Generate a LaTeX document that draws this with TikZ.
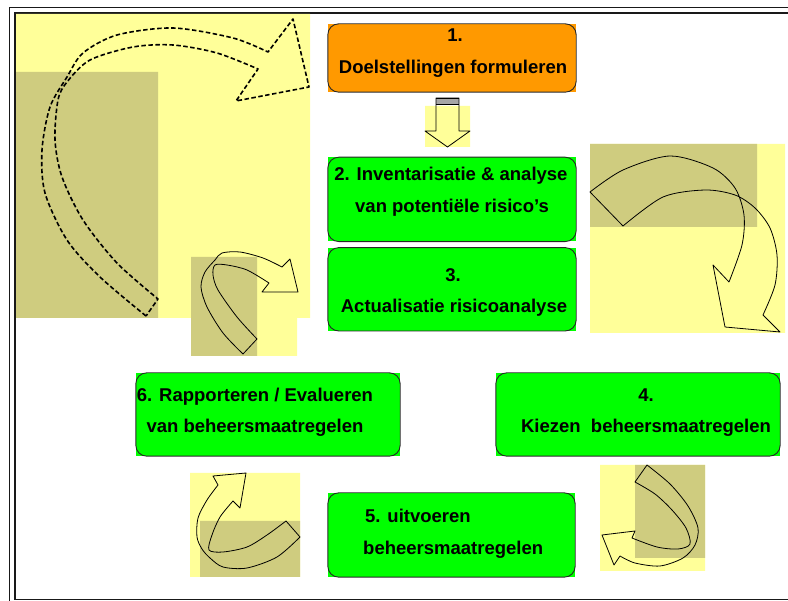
\documentclass[tikz,border=0pt]{standalone}
\usepackage{fontspec}
\setmainfont{Liberation Sans}
\usepackage{tikz}
\usetikzlibrary{positioning}
\definecolor{StepGreen}{HTML}{00FF00}
\definecolor{StepOrange}{HTML}{FF9900}
\definecolor{PadYellow}{HTML}{FFFF99}
\definecolor{PadKhaki}{HTML}{CFCC7F}

\begin{document}
\begin{tikzpicture}[x=1pt, y=-1pt, every node/.style={font=\fontsize{18.5}{22}\selectfont\bfseries}, stepbox/.style={rectangle, fill=StepGreen, minimum width=248pt, minimum height=84pt, inner sep=0pt}, rim/.style={draw=black!85, line width=0.9pt, rounded corners=11pt}, txt/.style={anchor=base, inner sep=0pt}, pad/.style={fill=PadYellow}, padk/.style={fill=PadKhaki}, swoop/.style={draw=black, line width=0.8pt, line join=round}, dashswoop/.style={swoop, line width=1.6pt, dash pattern=on 4.5pt off 2.5pt}]
\clip (0,0) rectangle (788,601);
\draw[line width=1.8pt, black!90] (9.5,7.5) rectangle (805,615);
\draw[line width=1.8pt, black!90] (15,13) rectangle (800,599.5);
\path[pad] (16,14) rectangle (310,318) (191,257) rectangle (297,356) (590,144) rectangle (785,333) (600,465) rectangle (705,571) (190,473) rectangle (300,577) (425,106) rectangle (470,147);
\path[padk] (16,72) rectangle (158,318) (191,257) rectangle (257,356) (590,144) rectangle (757,227) (635,465) rectangle (705,558) (200,521) rectangle (300,577);
\draw[dashswoop] plot[smooth] coordinates {(146,316) (100,277) (67,240) (45,193) (42,150) (50,107) (67,77) (83,53) (117,35) (173,28) (233,38) (268,52)} -- (293,19) -- (309,87) -- (236,101) -- (258,69) -- plot[smooth] coordinates {(258,69) (217,53) (173,45) (133,47) (90,60) (67,82) (58,100) (55,140) (62,177) (83,220) (117,263) (158,299)} -- cycle;
\draw[swoop] plot[smooth] coordinates {(243,354) (223,333) (207,307) (201,287) (205,272) (215,260) (222,253) (240,252) (263,258) (282,267)} -- (290,259) -- (298,292) -- (262,292) -- (269,283) -- plot[smooth] coordinates {(269,283) (247,270) (227,265) (215,265) (213,275) (218,290) (237,317) (257,339)} -- cycle;
\draw[swoop] plot[smooth] coordinates {(590,192) (623,170) (670,156) (713,168) (735,188) (744,215) (742,245) (729,282)} -- (713,265) -- (725,327) -- (780,332) -- (763,315) -- plot[smooth] coordinates {(763,315) (775,285) (777,255) (770,228) (755,208) (735,195) (705,190) (663,197) (623,226)} -- cycle;
\draw[swoop] plot[smooth] coordinates {(647,465) (670,484) (688,506) (698,528) (695,545) (683,558) (660,566) (635,563) (620,556)} -- (614,565) -- (602,535) -- (635,531) -- (632,538) -- plot[smooth] coordinates {(632,538) (657,547) (678,549) (690,544) (686,528) (672,510) (655,494) (635,482)} -- cycle;
\draw[swoop] plot[smooth] coordinates {(300,537) (277,557) (247,568) (223,567) (210,558) (202,549) (197,537) (198,518) (207,500) (218,485)} -- (213,476) -- (246,473) -- (240,508) -- (233,501) -- plot[smooth] coordinates {(233,501) (220,517) (212,535) (209,550) (223,552) (247,547) (267,535) (286,521)} -- cycle;
\path[fill=black!35] (436,98) rectangle (459,105);
\draw[swoop] (436,98) -- (459,98) -- (459,131) -- (470,131) -- (447.5,147) -- (425,131) -- (436,131) -- cycle;
\draw[swoop, line width=1.6pt] (436,98.5) -- (459,98.5) (436,104.5) -- (459,104.5);
\node[stepbox, fill=StepOrange, minimum height=68pt] (doel) at (452,58) {};
\node[stepbox, below=65pt of doel] (inv) {};
\node[stepbox, below=6pt of inv, minimum height=83pt] (act) {};
\node[stepbox, minimum width=264pt, minimum height=83pt] (rap) at (268,414.5) {};
\node[stepbox, minimum width=284pt, minimum height=83pt] (kies) at (638,414.5) {};
\node[stepbox, minimum width=247pt] (uit) at (451.5,535) {};
\foreach \n in {doel,inv,act,rap,kies,uit}{\draw[rim] (\n.north west) rectangle (\n.south east);}
\node[txt] (doel-a) at (455,42) {1.};
\node[txt] (doel-b) at (453,74) {Doelstellingen formuleren};
\node[txt] (inv-a) at (451,181) {2. Inventarisatie \& analyse};
\node[txt] (inv-b) at (452,213) {van potentiële risico’s};
\node[txt] (act-a) at (453,282) {3.};
\node[txt] (act-b) at (454,313) {Actualisatie risicoanalyse};
\node[txt] (rap-a) at (255,402) {6. Rapporteren / Evalueren};
\node[txt] (rap-b) at (255,433) {van beheersmaatregelen};
\node[txt] (kies-a) at (646,402) {4.};
\node[txt] (kies-b) at (646,433) {Kiezen\ \ beheersmaatregelen};
\node[txt, anchor=base west] (uit-a) at (365,523) {5. uitvoeren};
\node[txt, anchor=base west] (uit-b) at (363,555) {beheersmaatregelen};
\end{tikzpicture}
\end{document}
